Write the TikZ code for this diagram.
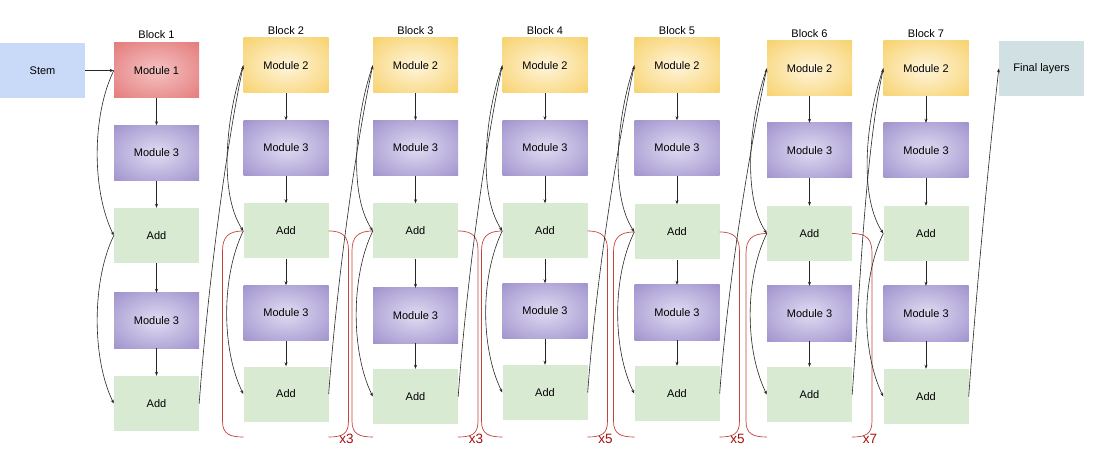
\documentclass[tikz,border=0pt]{standalone}
\usepackage{fontspec}
\setmainfont{Liberation Sans}
\usetikzlibrary{arrows.meta}
\definecolor{stemc}{HTML}{C9DAF8}
\definecolor{finc}{HTML}{D0E0E3}
\definecolor{addc}{HTML}{D9EAD3}
\definecolor{brkc}{HTML}{C8413B}
\definecolor{repc}{HTML}{A50E0E}
\pgfdeclareradialshading{shmone}{\pgfpoint{0bp}{0bp}}{rgb(0bp)=(0.96,0.76,0.76); rgb(44bp)=(0.88,0.42,0.42); rgb(100bp)=(0.88,0.42,0.42)}
\pgfdeclareradialshading{shmtwo}{\pgfpoint{0bp}{0bp}}{rgb(0bp)=(1,0.96,0.86); rgb(44bp)=(0.96,0.79,0.33); rgb(100bp)=(0.96,0.79,0.33)}
\pgfdeclareradialshading{shmthree}{\pgfpoint{0bp}{0bp}}{rgb(0bp)=(0.88,0.86,0.95); rgb(44bp)=(0.57,0.51,0.77); rgb(100bp)=(0.57,0.51,0.77)}
\tikzset{
  box/.style={minimum width=85pt, minimum height=55pt, inner sep=0pt, font=\fontsize{11}{13}\selectfont, text=black},
  mone/.style={box, shading=shmone},
  mtwo/.style={box, shading=shmtwo},
  mthree/.style={box, shading=shmthree},
  addbox/.style={box, fill=addc},
  stembox/.style={box, fill=stemc},
  finbox/.style={box, fill=finc},
  arr/.style={-{Stealth[length=4pt,width=3pt]}, line width=0.6pt, black!85},
  brk/.style={draw=brkc, line width=0.7pt},
  rep/.style={text=repc, font=\fontsize{13.5}{15}\selectfont, inner sep=0pt},
  lbl/.style={font=\fontsize{11}{13}\selectfont, inner sep=0pt, anchor=base}
}
\begin{document}
\begin{tikzpicture}[x=1pt,y=-1pt]
\useasboundingbox (0,0) rectangle (1100,454);
% stem and block 1
\node[stembox] (stem) at (42.5,70.5) {Stem};
\node[mone] (b1m1) at (156.5,70.5) {Module 1};
\node[mthree] (b1m3a) at (156.5,153) {Module 3};
\node[addbox] (b1adda) at (156.5,235.5) {Add};
\node[mthree] (b1m3b) at (156.5,320.5) {Module 3};
\node[addbox] (b1addb) at (156.5,403.5) {Add};
\node[lbl] (lab1) at (156.5,39) {Block 1};
\node[finbox] (final) at (1041.5,68.5) {Final layers};
% blocks 2..7
\foreach \bk/\x/\ya/\yb/\yc/\yd/\ye in {2/286/65.5/148/231/313/394, 3/415.5/65.5/148/231/315.5/396.5, 4/545/65.5/148/231/311/392.5, 5/677/65.5/148/232/312.5/393.5, 6/809.5/68.5/150.5/233.5/313.5/394.5, 7/926/68.5/150.5/233.5/313.5/396.5}{
  \node[mtwo] (b\bk m2) at (\x,\ya) {Module 2};
  \node[mthree] (b\bk m3a) at (\x,\yb) {Module 3};
  \node[addbox] (b\bk adda) at (\x,\yc) {Add};
  \node[mthree] (b\bk m3b) at (\x,\yd) {Module 3};
  \node[addbox] (b\bk addb) at (\x,\ye) {Add};
  \node[lbl] (lab\bk) at (\x,\ya-30.5) {Block \bk};
}
% repeat brackets
\foreach \bk/\x/\yc/\rp in {2/286/231/x3, 3/415.5/231/x3, 4/545/231/x5, 5/677/232/x5, 6/809.5/233.5/x7}{
  \pgfmathsetmacro\xl{\x-42.5}
  \pgfmathsetmacro\xr{\x+42.5}
  \draw[brk] (b\bk adda.west) .. controls +(-15,0) and +(0,-14) .. (\xl-21,\yc+20) -- (\xl-21,421) .. controls +(0,13) and +(-14,0) .. (\xl,437);
  \draw[brk] (b\bk adda.east) .. controls +(15,0) and +(0,-14) .. (\xr+20,\yc+20) -- (\xr+20,421) .. controls +(0,13) and +(14,0) .. (\xr,437);
  \node[rep] (rep\bk) at (\xr+18,439) {\rp};
}
% block 1 connectors
\draw[arr] (stem) -- (b1m1);
\draw[arr] (b1m1) -- (b1m3a);
\draw[arr] (b1m3a) -- (b1adda);
\draw[arr] (b1adda) -- (b1m3b);
\draw[arr] (b1m3b) -- (b1addb);
\draw[arr] (b1m1.west) .. controls +(-22,45) and +(-22,-45) .. (b1adda.west);
\draw[arr] (b1adda.west) .. controls +(-22,45) and +(-22,-45) .. (b1addb.west);
% blocks 2..7 connectors
\foreach \bk/\pk in {2/1, 3/2, 4/3, 5/4, 6/5, 7/6}{
  \draw[arr] (b\bk m2) -- (b\bk m3a);
  \draw[arr] (b\bk m3a) -- (b\bk adda);
  \draw[arr] (b\bk adda) -- (b\bk m3b);
  \draw[arr] (b\bk m3b) -- (b\bk addb);
  \draw[arr] (b\pk addb.east) .. controls +(8,-110) and +(-18,85) .. (b\bk m2.west);
  \draw[arr] (b\bk m2.west) .. controls +(-16,45) and +(-26,-40) .. (b\bk adda.west);
  \draw[arr] (b\bk adda.west) .. controls +(-22,45) and +(-22,-45) .. (b\bk addb.west);
}
\draw[arr] (b7addb.east) .. controls +(8,-110) and +(-10,90) .. (final.west);
\end{tikzpicture}
\end{document}
